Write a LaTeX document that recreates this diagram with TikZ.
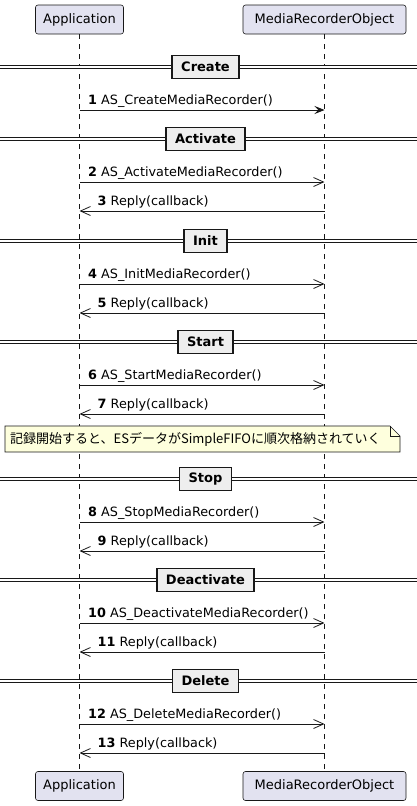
\documentclass[tikz,border=0pt]{standalone}
\usepackage{fontspec}
\setmainfont{DejaVu Sans}
\newfontfamily\cjk{Noto Sans CJK JP}
\usetikzlibrary{arrows.meta}
\definecolor{ink}{HTML}{181818}
\definecolor{partfill}{HTML}{E2E2F0}
\definecolor{divfill}{HTML}{EEEEEE}
\definecolor{notefill}{HTML}{FEFFDD}
\tikzset{
 part/.style={draw=ink, fill=partfill, rounded corners=2.5pt, line width=0.6pt, minimum height=29pt, inner sep=0pt, font=\fontsize{13}{15}\selectfont},
 lifeline/.style={draw=ink, dash pattern=on 5pt off 5pt, line width=0.6pt},
 divline/.style={draw=ink, double=white, double distance=2pt, line width=0.9pt},
 divbox/.style={draw=ink, fill=divfill, line width=1.8pt, minimum height=23pt, inner xsep=9pt, font=\bfseries\fontsize{13}{15}\selectfont},
 msg/.style={draw=ink, line width=0.8pt},
 sync/.style={msg, -{Stealth[length=10pt,width=8pt,inset=4pt]}},
 async/.style={msg, -{Straight Barb[length=10pt,width=9pt]}},
 mlabel/.style={anchor=base west, inner sep=0pt, font=\fontsize{12.8}{15}\selectfont},
 notebox/.style={draw=ink, fill=notefill, line width=0.6pt},
}
\begin{document}
\begin{tikzpicture}[x=1pt,y=-1pt]
\useasboundingbox (0,0) rectangle (417,806);
% participants
\node[part, minimum width=88pt] (a1) at (79.5,19.5) {Application};
\node[part, minimum width=163pt] (b1) at (324.5,19.5) {MediaRecorderObject};
\node[part, minimum width=88pt] (a2) at (79.5,786) {Application};
\node[part, minimum width=163pt] (b2) at (324.5,786) {MediaRecorderObject};
% lifelines
\draw[lifeline] (a1.south) -- (a2.north);
\draw[lifeline] (b1.south) -- (b2.north);
% dividers
\foreach \n/\y/\t in {create/67/Create,activate/139/Activate,init/241/Init,start/342/Start,stop/479/Stop,deactivate/580/Deactivate,delete/681/Delete}{
  \coordinate (dl\n) at (0,\y);
  \coordinate (dr\n) at (417,\y);
  \draw[divline] (dl\n) -- (dr\n);
  \node[divbox] (d\n) at (205.5,\y) {\t};
}
% message 1 (synchronous)
\coordinate (s1) at (79.5,110);
\coordinate (t1) at (324.5,110);
\draw[sync] (s1) -- (t1);
\node[mlabel] (l1) at (88,104.5) {\textbf{1} AS\_CreateMediaRecorder()};
% requests
\foreach \n/\y/\t in {2/182/AS\_ActivateMediaRecorder(),4/284/AS\_InitMediaRecorder(),6/385/AS\_StartMediaRecorder(),8/522/AS\_StopMediaRecorder(),10/623/AS\_DeactivateMediaRecorder(),12/724/AS\_DeleteMediaRecorder()}{
  \coordinate (s\n) at (79.5,\y);
  \coordinate (t\n) at (324.5,\y);
  \draw[async] (s\n) -- (t\n);
  \node[mlabel] (l\n) at (88,\y-5.5) {\textbf{\n} \t};
}
% replies
\foreach \n/\y in {3/211,5/313,7/414,9/551,11/652,13/753}{
  \coordinate (s\n) at (324.5,\y);
  \coordinate (t\n) at (79.5,\y);
  \draw[async] (s\n) -- (t\n);
  \node[mlabel] (l\n) at (97.5,\y-5.5) {\textbf{\n} Reply(callback)};
}
% note
\draw[notebox] (5,426) -- (390,426) -- (400,436) -- (400,452) -- (5,452) -- cycle;
\draw[ink, line width=0.6pt] (390,426) -- (390,436) -- (400,436);
\node[anchor=west, inner sep=0pt, font=\cjk\fontsize{13}{15}\selectfont] (note) at (10,439.5) {記録開始すると、ESデータがSimpleFIFOに順次格納されていく};
\end{tikzpicture}
\end{document}
